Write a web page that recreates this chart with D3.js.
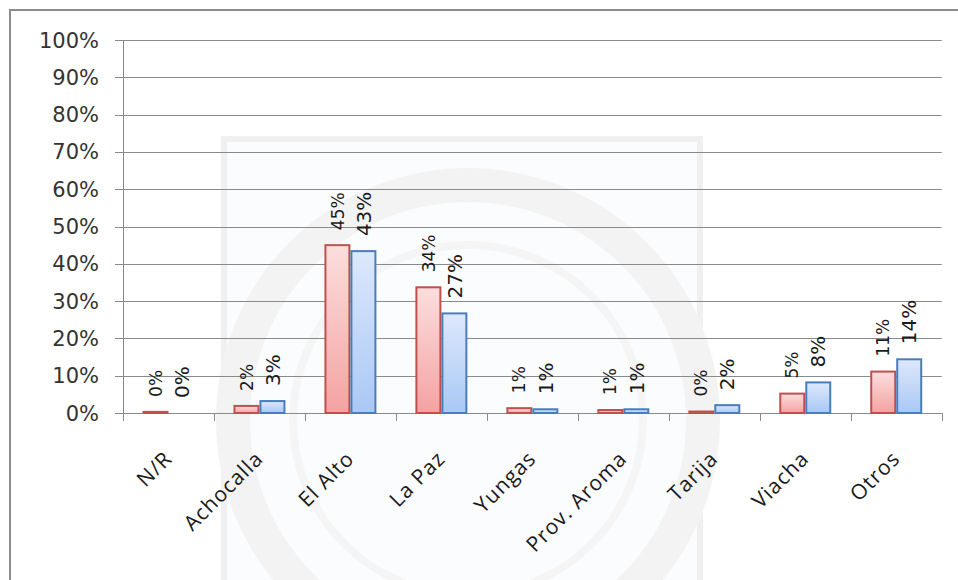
<!DOCTYPE html>
<html>
<head>
<meta charset="utf-8">
<script src="https://cdn.jsdelivr.net/npm/d3@7"></script>
<style>
  html, body { margin: 0; padding: 0; background: #fff; }
  svg { display: block; }
</style>
</head>
<body>
<svg id="chart" width="958" height="580"></svg>
<script>
// Place of origin, two survey groups (share of respondents)
const categories = ["N/R", "Achocalla", "El Alto", "La Paz", "Yungas", "Prov. Aroma", "Tarija", "Viacha", "Otros"];
const seriesA = [0.003, 0.019, 0.450, 0.337, 0.013, 0.008, 0.004, 0.052, 0.111];
const seriesB = [0.000, 0.032, 0.434, 0.267, 0.010, 0.010, 0.021, 0.082, 0.144];
const yTicks = [0, 0.1, 0.2, 0.3, 0.4, 0.5, 0.6, 0.7, 0.8, 0.9, 1.0];

const svg = d3.select("#chart");
const W = 958, H = 580;
const plotLeft = 123, plotRight = 941.7, plotTop = 40, plotBottom = 413;

// gradients for the bar fills
const defs = svg.append("defs");
function grad(id, c1, c2) {
  const g = defs.append("linearGradient").attr("id", id)
    .attr("x1", 0).attr("y1", 0).attr("x2", 0).attr("y2", 1);
  g.append("stop").attr("offset", "0%").attr("stop-color", c1);
  g.append("stop").attr("offset", "100%").attr("stop-color", c2);
}
grad("gRed", "#fcdede", "#f4a2a2");
grad("gBlue", "#dde8fb", "#a9c8f6");

// outer frame
svg.append("rect").attr("x", 10).attr("y", 10).attr("width", W + 20).attr("height", H + 20)
  .attr("fill", "#fff").attr("stroke", "#8c8c8c").attr("stroke-width", 2);

// faint seal in the background
const seal = svg.append("g");
seal.append("rect").attr("x", 224).attr("y", 139).attr("width", 476).attr("height", 460)
  .attr("fill", "#fbfcfd").attr("stroke", "#f0f0f0").attr("stroke-width", 6);
seal.append("circle").attr("cx", 468).attr("cy", 420).attr("r", 235)
  .attr("fill", "none").attr("stroke", "#f3f3f3").attr("stroke-width", 34);
seal.append("circle").attr("cx", 468).attr("cy", 420).attr("r", 175)
  .attr("fill", "none").attr("stroke", "#f5f5f5").attr("stroke-width", 8);

const x = d3.scaleBand().domain(categories).range([plotLeft, plotRight]).paddingInner(0).paddingOuter(0);
const xs = d3.scaleBand().domain(["a", "b"]).range([0, x.bandwidth()]).paddingInner(0).paddingOuter(0.75);
const y = d3.scaleLinear().domain([0, 1]).range([plotBottom, plotTop]);

// horizontal gridlines, extended left as tick marks
svg.append("g").selectAll("line").data(yTicks).join("line")
  .attr("x1", plotLeft - 8).attr("x2", plotRight)
  .attr("y1", d => Math.round(y(d)) + 0.5).attr("y2", d => Math.round(y(d)) + 0.5)
  .attr("stroke", "#8a8a8a").attr("stroke-width", 1);

// y axis line
svg.append("line").attr("x1", plotLeft + 0.5).attr("x2", plotLeft + 0.5)
  .attr("y1", y(1)).attr("y2", plotBottom)
  .attr("stroke", "#8a8a8a");

// y tick labels
svg.append("g").selectAll("text").data(yTicks).join("text")
  .attr("x", 99).attr("y", d => y(d))
  .attr("dy", "0.36em")
  .attr("text-anchor", "end")
  .attr("font-family", "DejaVu Sans")
  .attr("font-size", 21)
  .attr("fill", "#333")
  .text(d3.format(".0%"));

// x tick marks at the category boundaries
const bounds = categories.map(c => x(c)).concat([plotRight]);
svg.append("g").selectAll("line").data(bounds).join("line")
  .attr("x1", d => Math.round(d) + 0.5).attr("x2", d => Math.round(d) + 0.5)
  .attr("y1", plotBottom).attr("y2", plotBottom + 8)
  .attr("stroke", "#8a8a8a");

// bars
const rows = categories.map((c, i) => ({ c, a: seriesA[i], b: seriesB[i] }));
const series = [
  { key: "a", fill: "url(#gRed)", stroke: "#c0504d", size: 17 },
  { key: "b", fill: "url(#gBlue)", stroke: "#4a7ebb", size: 20 }
];
const fmt = d3.format(".0%");

series.forEach(s => {
  const g = svg.append("g");
  g.selectAll("rect").data(rows.filter(r => r[s.key] > 0)).join("rect")
    .attr("x", r => x(r.c) + xs(s.key) + 1)
    .attr("y", r => y(r[s.key]))
    .attr("width", xs.bandwidth() - 2)
    .attr("height", r => Math.max(0.01, plotBottom - y(r[s.key])))
    .attr("fill", s.fill)
    .attr("stroke", s.stroke)
    .attr("stroke-width", 2);

  // rotated value labels above each bar
  g.selectAll("text").data(rows).join("text")
    .attr("transform", r => {
      const cx = x(r.c) + xs(s.key) + xs.bandwidth() / 2 + s.size * 0.36;
      const ty = y(r[s.key]) - 15;
      return `translate(${cx},${ty}) rotate(-90)`;
    })
    .attr("text-anchor", "start")
    .attr("font-family", "DejaVu Sans")
    .attr("font-size", s.size)
    .attr("fill", "#1a1a1a")
    .text(r => fmt(r[s.key]));
});

// category labels, rotated 45 degrees
svg.append("g").selectAll("text").data(categories).join("text")
  .attr("transform", c => `translate(${x(c) + x.bandwidth() / 2 + 5},${plotBottom + 47}) rotate(-45)`)
  .attr("text-anchor", "end")
  .attr("font-family", "Open Sans")
  .attr("font-size", 21)
  .attr("letter-spacing", 1)
  .attr("fill", "#1a1a1a")
  .text(c => c);
</script>
</body>
</html>
